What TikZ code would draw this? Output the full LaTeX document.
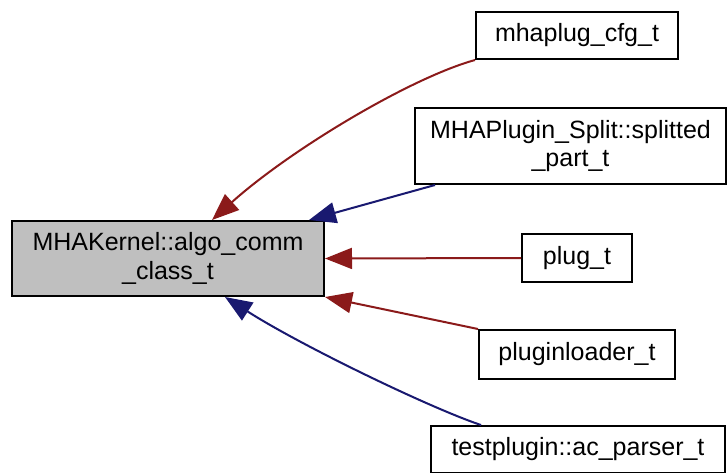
\documentclass[tikz,border=0pt]{standalone}
\usepackage{fontspec}
\setmainfont{Liberation Sans}
\usetikzlibrary{arrows.meta,positioning,calc}
\definecolor{edgered}{HTML}{8B1A1A}
\definecolor{edgeblue}{HTML}{191970}
\definecolor{boxgray}{HTML}{BFBFBF}
\tikzset{
  cls/.style={draw=black, line width=2pt, fill=white, inner sep=0pt, align=center,
    font=\fontsize{25}{28.5}\selectfont},
  redge/.style={line width=2pt, draw=edgered, -{Triangle[length=27pt,width=21pt,fill=edgered]}},
  bedge/.style={line width=2pt, draw=edgeblue, -{Triangle[length=27pt,width=21pt,fill=edgeblue]}},
}
\begin{document}
\begin{tikzpicture}[x=1pt,y=-1pt]
\useasboundingbox (0,0) rectangle (727,472);
\node[cls, fill=boxgray, minimum width=312pt, minimum height=75pt] (main) at (168,258.5) {MHAKernel::algo\_comm\\\_class\_t};
\node[cls, minimum width=202pt, minimum height=47pt] (cfg) at (577,35.5) {mhaplug\_cfg\_t};
\node[cls, minimum width=311pt, minimum height=76pt] (split) at (570.5,146) {MHAPlugin\_Split::splitted\\\_part\_t};
\node[cls, minimum width=110pt, minimum height=48pt] (plug) at (577,258) {plug\_t};
\node[cls, minimum width=196pt, minimum height=49pt] (loader) at (577,354.5) {pluginloader\_t};
\node[cls, minimum width=294pt, minimum height=47pt] (parser) at (578,449.5) {testplugin::ac\_parser\_t};

\draw[redge] (cfg.south west) .. controls (410,78) and (290,150) .. ([xshift=201pt]main.north west);
\draw[bedge] ([xshift=21pt]split.south west) -- ([xshift=-16pt]main.north east);
\draw[redge] (plug.west) -- (main.east);
\draw[redge] (loader.north west) -- (main.south east);
\draw[bedge] ([xshift=-97pt]parser.north) .. controls (430,408) and (300,345) .. ([xshift=214pt]main.south west);
\end{tikzpicture}
\end{document}
